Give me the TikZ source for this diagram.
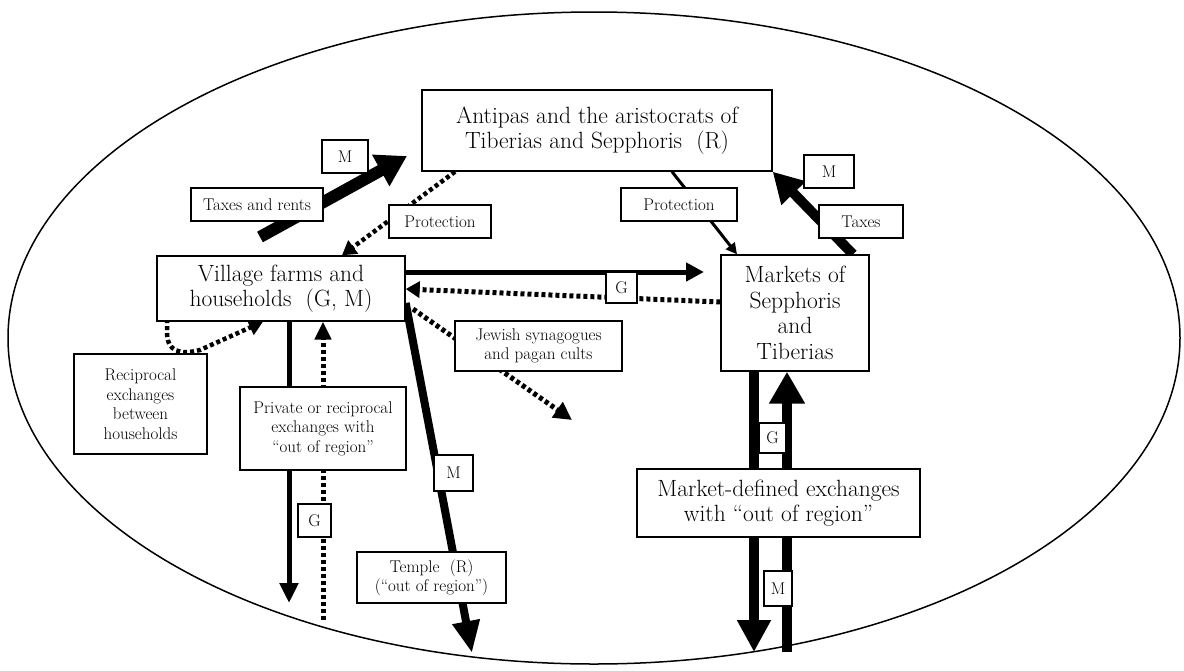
\documentclass[tikz,border=0pt]{standalone}
\usepackage{fontspec}
\setmainfont{Latin Modern Roman}
\usetikzlibrary{arrows.meta,backgrounds}
\begin{document}
\begin{tikzpicture}[x=1pt,y=-1pt,
  bx/.style={draw,line width=1.4pt,fill=white,align=center,inner sep=0pt},
  big/.style={bx,font=\fontsize{23.5}{25.5}\selectfont},
  sm/.style={bx,font=\fontsize{17}{19.5}\selectfont},
  dotl/.style={dash pattern=on 4pt off 3pt},
]
\useasboundingbox (0,0) rectangle (1184,670);
% main boxes
\node[big,minimum width=350pt,minimum height=81pt] (antipas) at (597,130.5) {Antipas and the aristocrats of\\Tiberias and Sepphoris\ \ (R)};
\node[big,minimum width=248pt,minimum height=65pt] (village) at (281,288.5) {Village farms and\\households\ \ (G, M)};
\node[big,minimum width=148pt,minimum height=116pt] (markets) at (795,313) {Markets of\\Sepphoris\\and\\Tiberias};
\node[big,minimum width=283pt,minimum height=68pt] (mde) at (778.5,503) {Market-defined exchanges\\with ``out of region''};
% small boxes
\node[sm,minimum width=133pt,minimum height=100pt] (recip) at (140.5,404) {Reciprocal\\exchanges\\between\\households};
\node[sm,minimum width=166pt,minimum height=83pt] (private) at (323,428.5) {Private or reciprocal\\exchanges with\\``out of region''};
\node[sm,minimum width=167pt,minimum height=50pt] (jewish) at (538.5,346) {Jewish synagogues\\and pagan cults};
\node[sm,minimum width=149pt,minimum height=51pt] (temple) at (431.5,577.5) {Temple\ \ (R)\\(``out of region'')};
\node[sm,minimum width=132pt,minimum height=33pt] (taxrent) at (257,204.5) {Taxes and rents};
\node[sm,minimum width=102pt,minimum height=33pt] (prot1) at (440,221.5) {Protection};
\node[sm,minimum width=116pt,minimum height=33pt] (prot2) at (679,204.5) {Protection};
\node[sm,minimum width=84pt,minimum height=33pt] (taxes) at (861,221.5) {Taxes};
\node[sm,minimum width=46pt,minimum height=33pt] (m1) at (345,156.5) {M};
\node[sm,minimum width=50pt,minimum height=33pt] (m2) at (829,171.5) {M};
\node[sm,minimum width=31pt,minimum height=31pt] (g1) at (621.5,287.5) {G};
\node[sm,minimum width=33pt,minimum height=33pt] (g2) at (314.5,520.5) {G};
\node[sm,minimum width=39pt,minimum height=36pt] (m3) at (453.5,473) {M};
\node[sm,minimum width=27pt,minimum height=30pt] (g3) at (772.5,438) {G};
\node[sm,minimum width=28pt,minimum height=35pt] (m4) at (778,588.5) {M};
% free ends
\coordinate (trS) at (260,237);
\coordinate (trE) at (407,156);
\coordinate (reciS) at (167,305);
\coordinate (vdE) at (289,603);
\coordinate (vuS) at (323,620);
\coordinate (tpE) at (472,653);
\coordinate (jwS) at (413,309);
\coordinate (jwE) at (572,420);
\coordinate (mdE) at (754,652);
\coordinate (muS) at (787,652);
\coordinate (gE) at (704,272);
\begin{pgfonlayer}{background}
\draw[line width=1.5pt] (594,338) ellipse [x radius=586, y radius=326];
% taxes and rents
\draw[line width=12pt,-{Triangle[length=30pt,width=34pt]}] (trS) -- (trE);
% protection (left, dotted)
\draw[line width=4.5pt,dotl,-{Triangle[length=14pt,width=16pt]}] (antipas.south -| 455,0) -- (village.north -| 342,0);
% protection (right)
\draw[line width=3pt,-{Triangle[length=11pt,width=11pt]}] (antipas.south -| 672,0) -- (markets.north -| 737,0);
% taxes (markets to antipas)
\draw[line width=10pt,-{Triangle[length=30pt,width=32pt]}] (markets.north -| 853,0) -- (antipas.south east);
% G solid arrow
\draw[line width=5pt,-{Triangle[length=18pt,width=18pt]}] (village.east |- 0,272) -- (gE);
% G dotted arrow back
\draw[line width=5pt,dotl,-{Triangle[length=14pt,width=16pt]}] (markets.west |- 0,302) -- (village.east |- 0,289);
% reciprocal curve
\draw[line width=4.5pt,dotl,-{Triangle[length=14pt,width=16pt]}] (reciS) -- (167,332) .. controls (167,352) and (180,355) .. (200,350) -- (village.south -| 263,0);
% village down
\draw[line width=5pt,-{Triangle[length=20pt,width=18pt]}] (village.south -| 289,0) -- (vdE);
% village up dotted
\draw[line width=5pt,dotl,-{Triangle[length=18pt,width=16pt]}] (vuS) -- (village.south -| 323,0);
% temple
\draw[line width=8pt,-{Triangle[length=32pt,width=26pt]}] (village.east |- 0,303) -- (tpE);
% jewish
\draw[line width=5pt,dotl,-{Triangle[length=18pt,width=18pt]}] (jwS) -- (jwE);
% markets down / up
\draw[line width=10pt,-{Triangle[length=32pt,width=32pt]}] (markets.south -| 754,0) -- (mdE);
\draw[line width=10pt,-{Triangle[length=32pt,width=34pt]}] (muS) -- (markets.south -| 787,0);
\end{pgfonlayer}
\end{tikzpicture}
\end{document}
